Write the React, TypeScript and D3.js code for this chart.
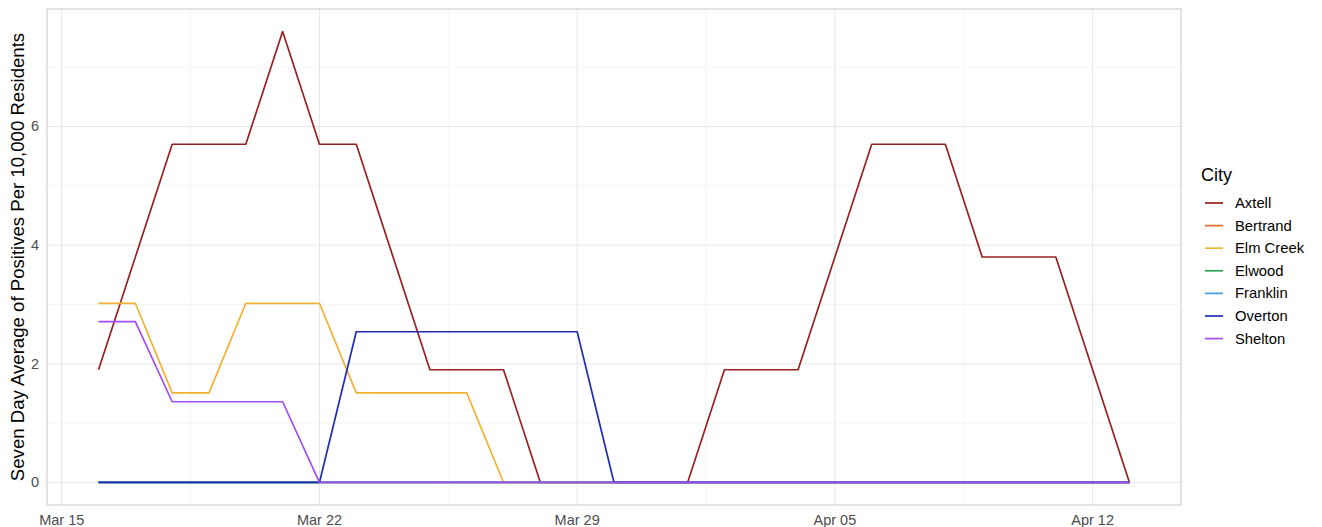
import { useEffect, useRef } from 'react';
import * as d3 from 'd3';

// daily dates Mar 16 .. Apr 13 (2020)
const dates = d3.timeDay.range(new Date(2020, 2, 16), new Date(2020, 3, 14));

const cities = ['Axtell', 'Bertrand', 'Elm Creek', 'Elwood', 'Franklin', 'Overton', 'Shelton'];
const colors = ['#962222', '#dc6a2c', '#f0b232', '#2ea35a', '#3e9fea', '#1e2db3', '#a34cf0'];

const axtell = [1.9, 3.8, 5.7, 5.7, 5.7, 7.6, 5.7, 5.7, 3.8, 1.9, 1.9, 1.9, 0, 0, 0, 0, 0, 1.9, 1.9, 1.9, 3.8, 5.7, 5.7, 5.7, 3.8, 3.8, 3.8, 1.9, 0];
const bertrand = [0, 0, 0, 0, 0, 0, 0, 0, 0, 0, 0, 0, 0, 0, 0, 0, 0, 0, 0, 0, 0, 0, 0, 0, 0, 0, 0, 0, 0];
const elmCreek = [3.02, 3.02, 1.51, 1.51, 3.02, 3.02, 3.02, 1.51, 1.51, 1.51, 1.51, 0, 0, 0, 0, 0, 0, 0, 0, 0, 0, 0, 0, 0, 0, 0, 0, 0, 0];
const elwood = [0, 0, 0, 0, 0, 0, 0, 0, 0, 0, 0, 0, 0, 0, 0, 0, 0, 0, 0, 0, 0, 0, 0, 0, 0, 0, 0, 0, 0];
const franklin = [0, 0, 0, 0, 0, 0, 0, 0, 0, 0, 0, 0, 0, 0, 0, 0, 0, 0, 0, 0, 0, 0, 0, 0, 0, 0, 0, 0, 0];
const overton = [0, 0, 0, 0, 0, 0, 0, 2.54, 2.54, 2.54, 2.54, 2.54, 2.54, 2.54, 0, 0, 0, 0, 0, 0, 0, 0, 0, 0, 0, 0, 0, 0, 0];
const shelton = [2.71, 2.71, 1.36, 1.36, 1.36, 1.36, 0, 0, 0, 0, 0, 0, 0, 0, 0, 0, 0, 0, 0, 0, 0, 0, 0, 0, 0, 0, 0, 0, 0];

const seriesValues = [axtell, bertrand, elmCreek, elwood, franklin, overton, shelton];

const xTickDates = [new Date(2020, 2, 15), new Date(2020, 2, 22), new Date(2020, 2, 29), new Date(2020, 3, 5), new Date(2020, 3, 12)];
const yTicks = [0, 2, 4, 6];
const yMinor = [1, 3, 5, 7];

const App = () => {
    const svgRef = useRef<SVGSVGElement>(null);

    useEffect(() => {
        const width = 1322, height = 527;
        const svg = d3.select(svgRef.current);
        svg.selectAll('*').remove();
        svg.attr('width', width).attr('height', height);

        const left = 47, right = 1181, top = 9, bottom = 505;
        const font = '"Liberation Sans", Arial, sans-serif';

        // ggplot-style 5% expansion
        const xExt = d3.extent(dates) as [Date, Date];
        const span = +xExt[1] - +xExt[0];
        const x = d3.scaleTime()
            .domain([new Date(+xExt[0] - span * 0.05), new Date(+xExt[1] + span * 0.05)])
            .range([left, right]);
        const yMax = d3.max(seriesValues.flat()) as number;
        const y = d3.scaleLinear()
            .domain([-yMax * 0.05, yMax * 1.05])
            .range([bottom, top]);

        const g = svg.append('g');

        // minor grid (halfway between the weekly breaks)
        const xMinor = xTickDates.slice(0, -1).map(d => d3.timeHour.offset(d, 84));
        g.selectAll('.xminor').data(xMinor).enter().append('line')
            .attr('x1', d => x(d)).attr('x2', d => x(d))
            .attr('y1', top).attr('y2', bottom)
            .attr('stroke', '#f1f1f1').attr('stroke-width', 0.7);
        g.selectAll('.yminor').data(yMinor).enter().append('line')
            .attr('x1', left).attr('x2', right)
            .attr('y1', d => y(d)).attr('y2', d => y(d))
            .attr('stroke', '#f1f1f1').attr('stroke-width', 0.7);

        // major grid
        g.selectAll('.xmajor').data(xTickDates).enter().append('line')
            .attr('x1', d => x(d)).attr('x2', d => x(d))
            .attr('y1', top).attr('y2', bottom)
            .attr('stroke', '#e6e6e6').attr('stroke-width', 1);
        g.selectAll('.ymajor').data(yTicks).enter().append('line')
            .attr('x1', left).attr('x2', right)
            .attr('y1', d => y(d)).attr('y2', d => y(d))
            .attr('stroke', '#e6e6e6').attr('stroke-width', 1);

        // lines
        const line = d3.line<number>()
            .x((_, i) => x(dates[i]))
            .y(d => y(d));
        seriesValues.forEach((vals, i) => {
            g.append('path')
                .attr('d', line(vals))
                .attr('fill', 'none')
                .attr('stroke', colors[i])
                .attr('stroke-width', 1.7)
                .attr('stroke-linejoin', 'round');
        });

        // panel border
        g.append('rect')
            .attr('x', left).attr('y', top)
            .attr('width', right - left).attr('height', bottom - top)
            .attr('fill', 'none').attr('stroke', '#c8c8c8').attr('stroke-width', 1);

        // axis labels
        const fmt = d3.timeFormat('%b %d');
        g.selectAll('.xlab').data(xTickDates).enter().append('text')
            .attr('x', d => x(d)).attr('y', bottom + 20)
            .attr('text-anchor', 'middle')
            .style('font-family', font).style('font-size', '14.5px').style('fill', '#4d4d4d')
            .text(d => fmt(d));
        g.selectAll('.ylab').data(yTicks).enter().append('text')
            .attr('x', left - 8).attr('y', d => y(d) + 5)
            .attr('text-anchor', 'end')
            .style('font-family', font).style('font-size', '14.5px').style('fill', '#4d4d4d')
            .text(d => d);

        g.append('text')
            .attr('transform', `translate(24, ${(top + bottom) / 2}) rotate(-90)`)
            .attr('text-anchor', 'middle')
            .style('font-family', font).style('font-size', '18.6px').style('fill', '#000')
            .text('Seven Day Average of Positives Per 10,000 Residents');

        // legend
        const lg = svg.append('g').attr('transform', 'translate(1201, 0)');
        lg.append('text')
            .attr('x', 0).attr('y', 181)
            .style('font-family', font).style('font-size', '18px').style('fill', '#000')
            .text('City');
        cities.forEach((c, i) => {
            const cy = 203 + i * 22.6;
            lg.append('line')
                .attr('x1', 4).attr('x2', 22)
                .attr('y1', cy).attr('y2', cy)
                .attr('stroke', colors[i]).attr('stroke-width', 1.7);
            lg.append('text')
                .attr('x', 34).attr('y', cy + 5)
                .style('font-family', font).style('font-size', '14.8px').style('fill', '#000')
                .text(c);
        });
    }, []);

    return <svg ref={svgRef} style={{ position: 'absolute', left: 0, top: 0 }}></svg>;
};

export default App;
